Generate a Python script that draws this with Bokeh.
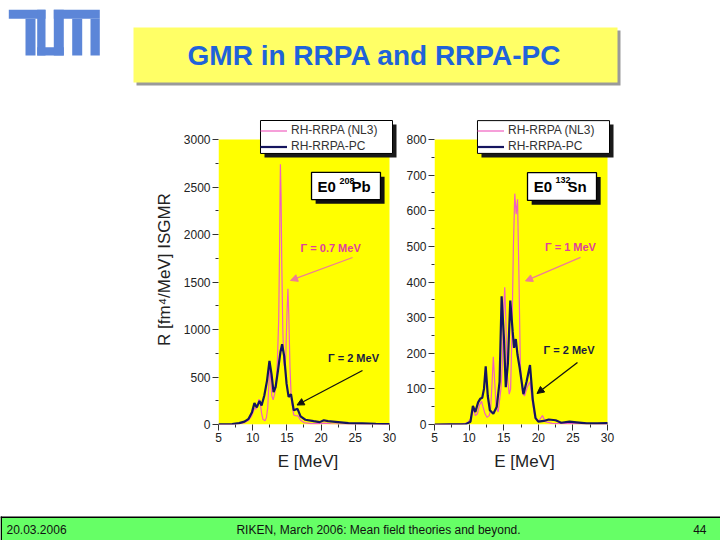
from bokeh.plotting import figure
from bokeh.models import (Range1d, FixedTicker, Legend, LegendItem, Label,
                          Arrow, NormalHead, BoxAnnotation)
from bokeh.layouts import column, row
from bokeh.embed import file_html
from bokeh.resources import INLINE

# ---------------- data ----------------
x_ticks = [5, 10, 15, 20, 25, 30]
pb_y_ticks = [0, 500, 1000, 1500, 2000, 2500, 3000]
sn_y_ticks = [0, 100, 200, 300, 400, 500, 600, 700, 800]
series_names = ["RH-RRPA (NL3)", "RH-RRPA-PC"]

# 208Pb, RH-RRPA (NL3), Gamma = 0.7 MeV
pb_E_nl3 = [5.0, 7.0, 8.0, 8.8, 9.4, 9.8, 10.1, 10.3, 10.5, 10.7, 10.9, 11.1, 11.3, 11.5,
            11.8, 12.0, 12.2, 12.4, 12.5, 12.6, 12.8, 13.0, 13.2, 13.4, 13.6, 13.8, 13.92,
            14.0, 14.05, 14.15, 14.25, 14.4, 14.55, 14.7, 14.85, 15.0, 15.15, 15.28, 15.45,
            15.65, 16.0, 16.4, 16.6, 17.0, 17.5, 18.5, 19.5, 20.5, 21.5, 23.0, 26.0, 30.0]
pb_R_nl3 = [0, 2, 8, 20, 45, 85, 140, 170, 165, 200, 265, 230, 120, 55,
            40, 70, 180, 480, 600, 520, 300, 260, 320, 420, 650, 1100, 1800,
            2450, 2740, 2400, 1700, 1000, 650, 580, 750, 1150, 1430, 1150, 600,
            260, 100, 90, 95, 45, 20, 10, 10, 15, 8, 5, 3, 2]

# 208Pb, RH-RRPA-PC, Gamma = 2 MeV
pb_E_pc = [5.0, 7.0, 8.0, 8.8, 9.4, 9.9, 10.25, 10.6, 11.0, 11.3, 11.7, 12.1, 12.45, 12.75,
           13.05, 13.35, 13.7, 14.05, 14.3, 14.6, 14.95, 15.25, 15.6, 16.0, 16.55, 17.0,
           17.7, 18.9, 19.8, 20.4, 21.0, 22.5, 24.0, 26.0, 28.0, 30.0]
pb_R_pc = [2, 5, 15, 30, 60, 130, 225, 180, 248, 200, 305, 465, 670, 530,
           340, 395, 570, 760, 845, 720, 430, 290, 320, 150, 165, 85,
           50, 35, 25, 45, 35, 25, 15, 12, 8, 5]

# 132Sn, RH-RRPA (NL3), Gamma = 1 MeV
sn_E_nl3 = [5.0, 9.0, 9.8, 10.2, 10.5, 10.7, 10.9, 11.2, 11.5, 11.8, 12.0, 12.3, 12.6, 12.9,
            13.1, 13.3, 13.5, 13.7, 13.9, 14.2, 14.6, 14.8, 14.95, 15.15, 15.3, 15.5, 15.8,
            16.0, 16.2, 16.4, 16.6, 16.8, 17.0, 17.2, 17.4, 17.7, 18.0, 18.4, 18.8, 19.1,
            19.5, 20.0, 20.6, 21.0, 22.0, 30.0]
sn_R_nl3 = [0, 1, 5, 15, 35, 40, 25, 30, 55, 65, 50, 30, 20, 25,
            40, 110, 190, 120, 50, 35, 100, 170, 300, 385, 300, 140, 85,
            100, 260, 500, 648, 590, 632, 420, 170, 90, 80, 105, 120, 70,
            20, 8, 25, 8, 3, 1]

# 132Sn, RH-RRPA-PC, Gamma = 2 MeV
sn_E_pc = [5.0, 9.5, 10.2, 10.55, 10.9, 11.3, 11.6, 11.9, 12.15, 12.4, 12.7, 13.0, 13.5, 14.0,
           14.4, 14.7, 15.05, 15.3, 15.6, 15.95, 16.3, 16.5, 16.75, 17.0, 17.3, 17.85, 18.3,
           18.8, 19.2, 19.6, 20.0, 20.8, 21.5, 22.5, 23.3, 24.5, 25.5, 27.0, 28.5, 30.0]
sn_R_pc = [0, 1, 8, 52, 35, 62, 72, 75, 100, 163, 80, 40, 30, 50,
           120, 360, 236, 105, 170, 348, 260, 215, 240, 195, 160, 85, 120,
           167, 70, 18, 8, 10, 14, 12, 5, 8, 6, 3, 3, 4]

# ---------------- styling ----------------
FONT = "Liberation Sans"
PINK = "#F060C0"
NAVY = "#15155F"
ARROW_PINK = "#EE7D95"
CH = 376           # height of the chart row (page y 110..486)
TOP_B = 4          # frame starts at page y 114 (room for the legends)
FRAME_H = 310      # frame bottom at page y 424; y tick "max" sits at page y 139
PLOT_H = 285       # pixel height of the yellow plotting area


def mids(t):
    return [(a + b) / 2 for a, b in zip(t[:-1], t[1:])]


def make_chart(width, left_b, right_b, x_max, y_top, y_ticks, y_label):
    y_max = y_top * FRAME_H / PLOT_H
    p = figure(width=width, height=CH, x_range=Range1d(5, x_max), y_range=Range1d(0, y_max),
               output_backend="svg", toolbar_location=None,
               min_border_left=left_b, min_border_right=right_b,
               min_border_top=TOP_B, min_border_bottom=CH - TOP_B - FRAME_H,
               background_fill_color="white", border_fill_color="white",
               outline_line_color=None)
    p.grid.visible = False
    p.add_layout(BoxAnnotation(left=x_ticks[0], right=x_ticks[-1], bottom=0, top=y_top,
                               fill_color="#FFFF00", fill_alpha=1, line_alpha=0,
                               level="underlay"))
    p.xaxis.ticker = FixedTicker(ticks=x_ticks, minor_ticks=mids(x_ticks))
    p.yaxis.ticker = FixedTicker(ticks=y_ticks, minor_ticks=mids(y_ticks))
    for ax in (p.xaxis[0], p.yaxis[0]):
        ax.axis_line_color = None
        ax.major_tick_line_color = "#333333"
        ax.minor_tick_line_color = "#333333"
        ax.major_tick_in = 0
        ax.major_tick_out = 6
        ax.minor_tick_in = 0
        ax.minor_tick_out = 3
        ax.major_label_text_font = FONT
        ax.major_label_text_font_size = "12px"
        ax.major_label_text_color = "#222222"
        ax.major_label_standoff = 2
        ax.axis_label_text_font = FONT
        ax.axis_label_text_font_size = "17px"
        ax.axis_label_text_font_style = "normal"
        ax.axis_label_text_color = "#222222"
    p.xaxis.axis_label = "E [MeV]"
    p.xaxis.axis_label_standoff = 7
    if y_label:
        p.yaxis.axis_label = y_label
        p.yaxis.axis_label_standoff = 7
    return p


def add_legend(p, r1, r2, loc, box, dx, dy):
    left, right, top, bottom = box
    # drop shadow and framed white box behind the legend entries
    p.add_layout(BoxAnnotation(left=left + dx, right=right + dx, top=top - dy, bottom=bottom - dy,
                               fill_color="#1A1A1A", fill_alpha=1, line_alpha=0))
    p.add_layout(BoxAnnotation(left=left, right=right, top=top, bottom=bottom,
                               fill_color="white", fill_alpha=1, line_color="black",
                               line_alpha=1, line_width=1))
    leg = Legend(items=[LegendItem(label=series_names[0], renderers=[r1]),
                        LegendItem(label=series_names[1], renderers=[r2])],
                 location=loc, background_fill_alpha=0, border_line_color=None,
                 label_text_color="#333333", label_text_font=FONT, label_text_font_size="12px",
                 label_height=13, glyph_height=13, glyph_width=27, label_standoff=4,
                 spacing=2, padding=4, margin=0)
    p.add_layout(leg, "center")


def add_box(p, left, right, top, bottom, dx, dy, parts):
    p.add_layout(BoxAnnotation(left=left + dx, right=right + dx, top=top - dy, bottom=bottom - dy,
                               fill_color="#111111", fill_alpha=1, line_alpha=0))
    p.add_layout(BoxAnnotation(left=left, right=right, top=top, bottom=bottom,
                               fill_color="white", fill_alpha=1, line_color="black",
                               line_alpha=1, line_width=1.3))
    for txt, x, y, size in parts:
        p.add_layout(Label(x=x, y=y, text=txt, text_font=FONT, text_font_size=size,
                           text_font_style="bold", text_color="black",
                           text_align="left", text_baseline="middle"))


def add_gamma(p, txt, x, y, color, arrow, acolor):
    p.add_layout(Label(x=x, y=y, text=txt, text_font=FONT, text_font_size="11px",
                       text_font_style="bold", text_color=color,
                       text_align="center", text_baseline="middle"))
    x0, y0, x1, y1 = arrow
    p.add_layout(Arrow(end=NormalHead(size=7, fill_color=acolor, line_color=acolor),
                       x_start=x0, y_start=y0, x_end=x1, y_end=y1,
                       line_color=acolor, line_width=1.3))


# ---------------- left chart: 208Pb (page x 0..403, frame 218..397) ----------------
pl = make_chart(403, 218, 6, 31.17, 3000, pb_y_ticks, "R [fm\u2074/MeV] ISGMR")
r1 = pl.line(pb_E_nl3, pb_R_nl3, line_color=PINK, line_width=1.2)
r2 = pl.line(pb_E_pc, pb_R_pc, line_color=NAVY, line_width=2.2)
add_legend(pl, r1, r2, (42, 271), (11.14, 30.44, 3200, 2853), 0.585, 42)
add_box(pl, 18.6, 28.68, 2653, 2368, 0.6, 45,
        [("E0", 19.47, 2505, "15px"), ("208", 22.69, 2568, "9px"), ("Pb", 24.44, 2505, "15px")])
add_gamma(pl, "\u0393 = 0.7 MeV", 21.4, 1863, "#E0409F", (24.6, 1758, 15.53, 1516), ARROW_PINK)
add_gamma(pl, "\u0393 = 2 MeV", 24.74, 705, "#1A1A40", (26.05, 568, 16.48, 205), "#111111")

# ---------------- right chart: 132Sn (page x 403..720, frame 434..614) ----------------
pr = make_chart(317, 31, 106, 31.01, 800, sn_y_ticks, None)
s1 = pr.line(sn_E_nl3, sn_R_nl3, line_color=PINK, line_width=1.2)
s2 = pr.line(sn_E_pc, sn_R_pc, line_color=NAVY, line_width=2.2)
add_legend(pr, s1, s2, (43, 271), (11.21, 30.29, 853, 761), 0.578, 11.2)
add_box(pr, 18.44, 28.41, 707, 629, 0.6, 12,
        [("E0", 19.35, 668, "15px"), ("132", 22.49, 685, "9px"), ("Sn", 24.22, 668, "15px")])
add_gamma(pr, "\u0393 = 1 MeV", 24.65, 497, "#E0409F", (26.1, 469, 18.15, 403), ARROW_PINK)
add_gamma(pr, "\u0393 = 2 MeV", 24.44, 208, "#1A1A40", (25.66, 174, 19.81, 87), "#111111")

# ---------------- header (page y 0..110) ----------------
hdr = figure(width=720, height=110, x_range=Range1d(0, 720), y_range=Range1d(110, 0),
             output_backend="svg", toolbar_location=None, x_axis_type=None, y_axis_type=None,
             min_border=0, outline_line_color=None, background_fill_color="white",
             border_fill_color="white")
hdr.grid.visible = False
logo_left = [8.3, 25.0, 36.7, 36.7, 53.3, 53.3, 71.7, 90.0]
logo_right = [45.0, 35.0, 45.0, 63.3, 63.3, 99.3, 81.7, 99.3]
logo_top = [9.3, 18.3, 9.3, 46.7, 9.3, 9.3, 18.3, 18.3]
logo_bottom = [18.3, 55.0, 55.0, 55.0, 55.0, 18.3, 55.0, 55.0]
hdr.quad(left=logo_left, right=logo_right, top=logo_top, bottom=logo_bottom,
         fill_color="#5C86D8", line_color=None)
hdr.quad(left=[136], right=[620], top=[30], bottom=[85], fill_color="#9A9A9A", line_color=None)
hdr.quad(left=[133], right=[617], top=[27], bottom=[82], fill_color="#FFFF66", line_color=None)
hdr.add_layout(Label(x=374, y=55, text="GMR in RRPA and RRPA-PC", text_font=FONT,
                     text_font_size="28px", text_font_style="bold", text_color="#1F63D9",
                     text_align="center", text_baseline="middle"))

# ---------------- footer (page y 486..540) ----------------
FH = 540 - 110 - CH
ftr = figure(width=720, height=FH, x_range=Range1d(0, 720), y_range=Range1d(540, 540 - FH),
             output_backend="svg", toolbar_location=None, x_axis_type=None, y_axis_type=None,
             min_border=0, outline_line_color=None, background_fill_color="white",
             border_fill_color="white")
ftr.grid.visible = False
ftr.quad(left=[0], right=[720], top=[517], bottom=[540], fill_color="#66FF66", line_color=None)
ftr.quad(left=[0], right=[720], top=[516], bottom=[517.5], fill_color="black", line_color=None)
ftr.quad(left=[0], right=[1.5], top=[516], bottom=[540], fill_color="black", line_color=None)
for txt, x, align in [("20.03.2006", 6, "left"),
                      ("RIKEN, March 2006: Mean field theories and beyond.", 378, "center"),
                      ("44", 706, "right")]:
    ftr.add_layout(Label(x=x, y=529, text=txt, text_font=FONT, text_font_size="12px",
                         text_color="#111111", text_align=align, text_baseline="middle"))

layout = column(hdr, row(pl, pr), ftr)
open("out.html", "w").write(file_html(layout, INLINE))
